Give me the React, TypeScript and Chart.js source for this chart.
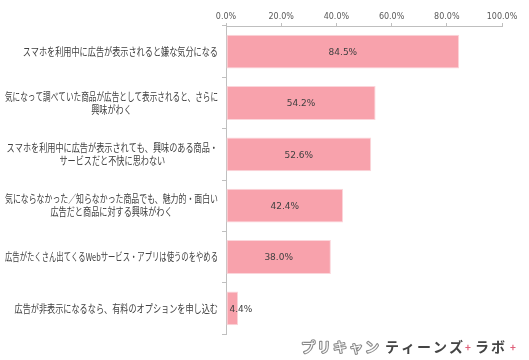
import React, { useEffect, useRef } from "react";
import { Chart, registerables } from "chart.js";

Chart.register(...registerables);

const categories: string[][] = [
  ["スマホを利用中に広告が表示されると嫌な気分になる"],
  ["気になって調べていた商品が広告として表示されると、さらに", "興味がわく"],
  ["スマホを利用中に広告が表示されても、興味のある商品・", "サービスだと不快に思わない"],
  ["気にならなかった／知らなかった商品でも、魅力的・面白い", "広告だと商品に対する興味がわく"],
  ["広告がたくさん出てくるWebサービス・アプリは使うのをやめる"],
  ["広告が非表示になるなら、有料のオプションを申し込む"],
];
const values: number[] = [84.5, 54.2, 52.6, 42.4, 38.0, 4.4];
const xMax = 100;
const xStep = 20;

const JP_FONT = '"Noto Sans CJK JP", sans-serif';

const labelPlugin = {
  id: "customLabels",
  afterDraw(chart: any) {
    const ctx = chart.ctx;
    const yScale = chart.scales.y;
    // category labels
    ctx.save();
    ctx.fillStyle = "#404040";
    ctx.font = `11px ${JP_FONT}`;
    ctx.textBaseline = "middle";
    ctx.textAlign = "center";
    const baseSx = 0.74;
    const maxLineW = 213;
    const lh = 13;
    const right = yScale.left + yScale.width - 8;
    categories.forEach((lines, i) => {
      const cy = yScale.getPixelForValue(i);
      const raw = lines.map((l) => ctx.measureText(l).width);
      const sxs = raw.map((w) => Math.min(baseSx, maxLineW / w));
      const widths = raw.map((w, j) => w * sxs[j]);
      const maxW = Math.max(...widths);
      const cx = right - maxW / 2;
      lines.forEach((line, j) => {
        const ly = cy + (j - (lines.length - 1) / 2) * lh;
        ctx.save();
        ctx.translate(cx, ly);
        ctx.scale(sxs[j], 1);
        ctx.fillText(line, 0, 0);
        ctx.restore();
      });
    });
    ctx.restore();

    // value labels
    const meta = chart.getDatasetMeta(0);
    ctx.save();
    ctx.fillStyle = "#404040";
    ctx.font = '9px "DejaVu Sans", sans-serif';
    ctx.textBaseline = "middle";
    ctx.textAlign = "center";
    meta.data.forEach((el: any, i: number) => {
      const txt = values[i].toFixed(1) + "%";
      const w = ctx.measureText(txt).width;
      const left = Math.min(el.x, el.base);
      let cx = (el.x + el.base) / 2;
      cx = Math.max(cx, left + 3 + w / 2);
      ctx.fillText(txt, cx, el.y + 1);
    });
    ctx.restore();

    // logo
    ctx.save();
    ctx.textBaseline = "middle";
    ctx.textAlign = "left";
    const ly = 347;
    (ctx as any).letterSpacing = "2px";
    ctx.font = `14px ${JP_FONT}`;
    ctx.strokeStyle = "#8a8a8a";
    ctx.lineWidth = 2.2;
    ctx.lineJoin = "round";
    ctx.strokeText("プリキャン", 301, ly);
    ctx.fillStyle = "#ffffff";
    ctx.fillText("プリキャン", 301, ly);
    ctx.font = `bold 14px ${JP_FONT}`;
    ctx.fillStyle = "#444444";
    ctx.fillText("ティーンズ", 385, ly);
    ctx.fillText("ラボ", 475, ly);
    ctx.fillStyle = "#e0607a";
    ctx.font = `bold 10px ${JP_FONT}`;
    (ctx as any).letterSpacing = "0px";
    ctx.fillText("+", 465, ly);
    ctx.fillText("+", 510, ly);
    ctx.restore();
  },
};

export default function App() {
  const ref = useRef<HTMLCanvasElement>(null);
  useEffect(() => {
    if (!ref.current) return;
    const chart = new Chart(ref.current, {
      type: "bar",
      data: {
        labels: categories.map((c) => c.join("")),
        datasets: [
          {
            data: values,
            backgroundColor: "#F8A2AC",
            borderColor: "#FBD6DB",
            borderWidth: 1,
            borderSkipped: false,
            barPercentage: 0.66,
            categoryPercentage: 1,
          },
        ],
      },
      options: {
        indexAxis: "y",
        animation: false,
        responsive: false,
        maintainAspectRatio: false,
        layout: { padding: { left: 0, right: 27, top: 0, bottom: 26 } },
        plugins: { legend: { display: false }, tooltip: { enabled: false } },
        scales: {
          x: {
            position: "top",
            min: 0,
            max: xMax,
            afterFit: (s: any) => {
              s.height = 26;
            },
            ticks: {
              stepSize: xStep,
              padding: 1,
              color: "#595959",
              font: { family: '"DejaVu Sans", sans-serif', size: 8 },
              callback: (v: any) => Number(v).toFixed(1) + "%",
            },
            grid: {
              drawOnChartArea: false,
              drawTicks: true,
              tickLength: 3,
              color: "#bfbfbf",
            },
            border: { display: true, color: "#bfbfbf" },
          },
          y: {
            afterFit: (s: any) => {
              s.width = 226;
            },
            ticks: { display: false },
            grid: {
              drawOnChartArea: false,
              drawTicks: true,
              tickLength: 4,
              color: "#bfbfbf",
              offset: true,
            },
            border: { display: true, color: "#bfbfbf" },
          },
        },
      },
      plugins: [labelPlugin],
    } as any);
    return () => chart.destroy();
  }, []);
  return (
    <div style={{ position: "fixed", left: 0, top: 0, width: 529, height: 360, background: "#fff" }}>
      <canvas ref={ref} width={529} height={360} />
    </div>
  );
}
